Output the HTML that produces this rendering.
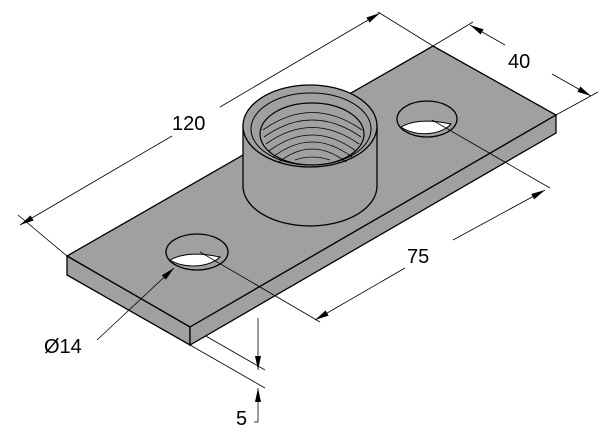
<!DOCTYPE html>
<html><head><style>html,body{margin:0;padding:0;background:#fff;width:600px;height:432px;overflow:hidden}</style></head>
<body>
<svg width="600" height="432" viewBox="0 0 600 432" xmlns="http://www.w3.org/2000/svg" font-family="Liberation Sans, sans-serif">
<defs>
<marker id="a" markerWidth="14" markerHeight="8" refX="14" refY="4" orient="auto" markerUnits="userSpaceOnUse"><path d="M0,1 L14,4 L0,7 Z" fill="#000"/></marker>
</defs>
<g stroke="#000" stroke-width="0.8" fill="none">
<line x1="18" y1="215" x2="67" y2="256"/>
<line x1="378" y1="12" x2="433" y2="46"/>
<line x1="433" y1="46" x2="473" y2="22"/>
<line x1="556" y1="115" x2="598" y2="92"/>
<line x1="190" y1="327" x2="265" y2="370"/>
<line x1="190" y1="345" x2="265" y2="388"/>
</g>
<!-- plate -->
<polygon points="67,256 433,46 556,115 190,327" fill="#a0a0a0" stroke="#000" stroke-width="1.3"/>
<polygon points="67,256 190,327 190,345 67,275" fill="#a0a0a0" stroke="#000" stroke-width="1.3"/>
<polygon points="190,327 556,115 556,133 190,345" fill="#a0a0a0" stroke="#000" stroke-width="1.3"/>
<!-- holes -->
<ellipse cx="197" cy="252" rx="31" ry="18" fill="#a0a0a0" stroke="#000" stroke-width="1.3"/>
<path d="M170,260 Q188,250 220,257 A31,18 0 0 1 170,260 Z" fill="#fff" stroke="#000" stroke-width="1"/>
<ellipse cx="427" cy="119" rx="30" ry="18" fill="#a0a0a0" stroke="#000" stroke-width="1.3"/>
<path d="M401,127 Q418,117 451,124 A30,18 0 0 1 401,127 Z" fill="#fff" stroke="#000" stroke-width="1"/>
<g stroke="#000" stroke-width="0.8" fill="none">
<line x1="200" y1="252" x2="320" y2="322"/>
<line x1="432" y1="120" x2="550" y2="188"/>
</g>
<!-- boss -->
<path d="M243,126 L243,186 A67,40 0 0 0 377,186 L377,126 Z" fill="#a0a0a0" stroke="#000" stroke-width="1.3"/>
<ellipse cx="310" cy="126" rx="67" ry="41" fill="#a0a0a0" stroke="#000" stroke-width="1.3"/>
<ellipse cx="311" cy="129" rx="60" ry="36" fill="none" stroke="#000" stroke-width="1"/>
<ellipse cx="312" cy="134" rx="52" ry="31" fill="#a0a0a0" stroke="#000" stroke-width="1.2"/>
<g stroke="#000" stroke-width="0.8" fill="none">
<path d="M263,130 Q312,95 362,130"/>
<path d="M264,137 Q312,103 361,137"/>
<path d="M266,144 Q312,111 359,144"/>
<path d="M269,151 Q312,119 356,151"/>
<path d="M273,157 Q312,127 352,157"/>
<path d="M279,162 Q312,136 346,162"/>
<path d="M295,160 Q312,154 330,160"/>
</g>
<!-- dimension lines -->
<g stroke="#000" stroke-width="0.8" fill="none">
<line x1="172" y1="136" x2="20" y2="225" marker-end="url(#a)"/>
<line x1="220" y1="107" x2="380" y2="13" marker-end="url(#a)"/>
<line x1="505" y1="45" x2="470" y2="25" marker-end="url(#a)"/>
<line x1="552" y1="74" x2="591" y2="96" marker-end="url(#a)"/>
<line x1="405" y1="268" x2="315" y2="320" marker-end="url(#a)"/>
<line x1="453" y1="240" x2="545" y2="190" marker-end="url(#a)"/>
<line x1="97" y1="340" x2="174" y2="268" marker-end="url(#a)"/>
<line x1="258" y1="318" x2="258" y2="370" marker-end="url(#a)"/>
<line x1="258" y1="422" x2="258" y2="388" marker-end="url(#a)"/>
<line x1="258" y1="422" x2="254" y2="422"/>
</g>
<g font-size="20" fill="#000">
<text x="172" y="130">120</text>
<text x="508" y="68">40</text>
<text x="407" y="263">75</text>
<text x="44" y="353">Ø14</text>
<text x="236" y="425">5</text>
</g>
</svg>
</body></html>
